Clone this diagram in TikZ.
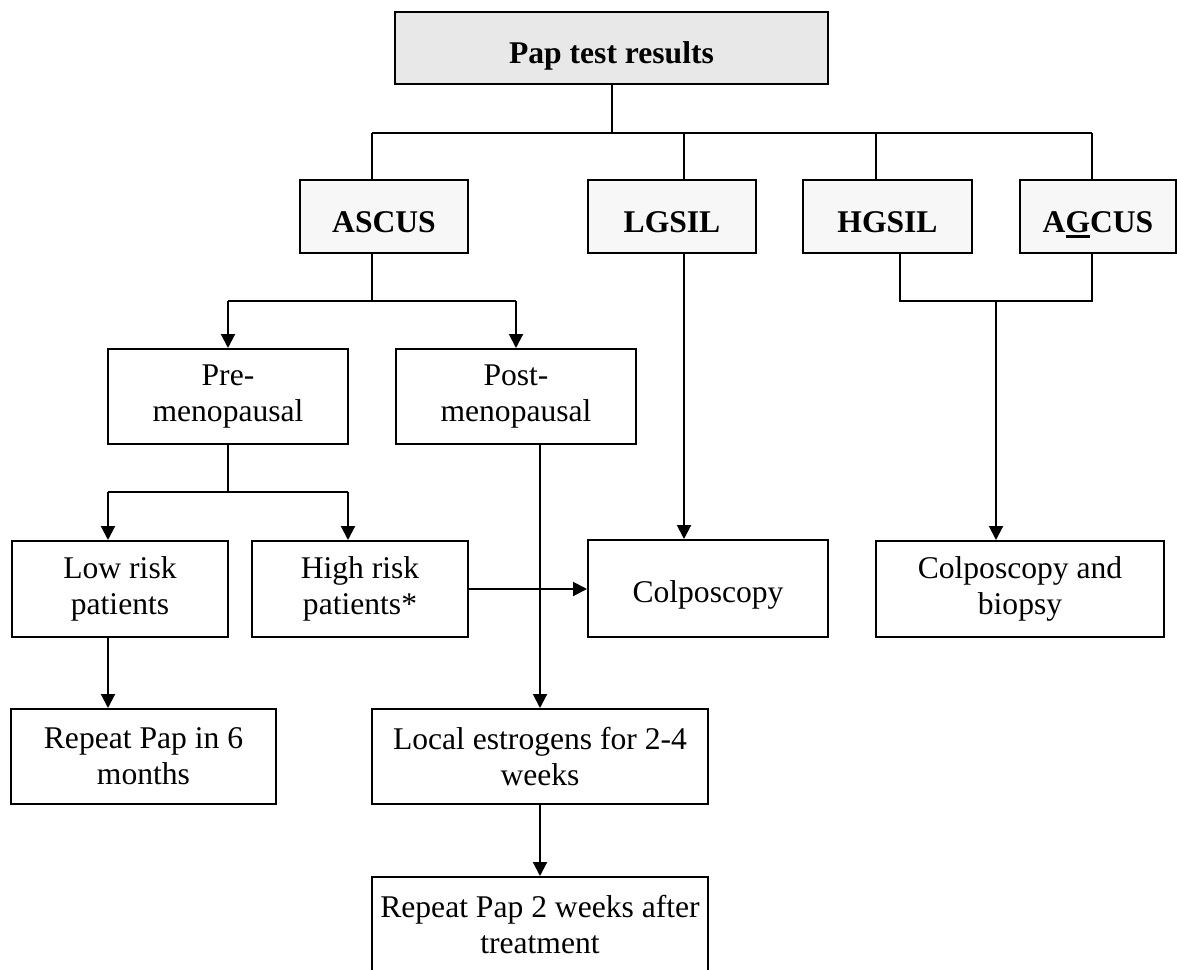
\documentclass[tikz,border=0pt]{standalone}
\usepackage{fontspec}
\setmainfont{Liberation Serif}
\usetikzlibrary{arrows.meta}
\newcommand{\thickul}[1]{\setbox0\hbox{#1}\smash{\rlap{\rule[-3pt]{\wd0}{1.5pt}}}#1}
\tikzset{
box/.style={draw,align=center,inner sep=0pt,font=\fontsize{15.8}{18}\selectfont},
headbox/.style={box,fill=black!3,text height=15.5pt,text depth=0pt,font=\fontsize{15.8}{18}\selectfont\bfseries},
arr/.style={-{Triangle[length=7pt,width=7pt]}}
}

\begin{document}
\begin{tikzpicture}[x=0.5pt,y=-0.5pt,line width=1pt]
\useasboundingbox (0,0) rectangle (1177,969);
\node (pap) at (611.5,48) [headbox,fill=black!9,minimum width=216.5pt,minimum height=36pt] {Pap test results};
\node (ascus) at (384,216.5) [headbox,minimum width=84pt,minimum height=36.5pt] {ASCUS};
\node (lgsil) at (672,216.5) [headbox,minimum width=84pt,minimum height=36.5pt] {LGSIL};
\node (hgsil) at (887.5,216.5) [headbox,minimum width=84.5pt,minimum height=36.5pt] {HGSIL};
\node (agcus) at (1098,216.5) [headbox,minimum width=78pt,minimum height=36.5pt] {A\thickul{G}CUS};
\node (pre) at (228,396.5) [box,minimum width=120pt,minimum height=47.5pt] {Pre-\\menopausal};
\node (post) at (516,396.5) [box,minimum width=120pt,minimum height=47.5pt] {Post-\\menopausal};
\node (low) at (120,589) [box,minimum width=108pt,minimum height=48pt] {Low risk\\patients};
\node (high) at (360,589) [box,minimum width=108pt,minimum height=48pt] {High risk\\patients*};
\node (colpo) at (708,588.5) [box,text height=13.5pt,text depth=0pt,minimum width=120pt,minimum height=48.5pt] {Colposcopy};
\node (colbio) at (1020,589) [box,minimum width=144pt,minimum height=48pt] {Colposcopy and\\biopsy};
\node (rep6) at (143.5,756.5) [box,minimum width=132.5pt,minimum height=47.5pt] {Repeat Pap in 6\\months};
\node (estro) at (540,756.5) [box,minimum width=168pt,minimum height=47.5pt] {Local estrogens for 2-4\\weeks};
\node (rep2) at (540,925) [box,minimum width=168pt,minimum height=48pt] {Repeat Pap 2 weeks after\\treatment};

\coordinate (a1) at (372,133);
\coordinate (a2) at (684,133);
\coordinate (a3) at (876,133);
\coordinate (a4) at (1092,133);
\coordinate (b0) at (372,301);
\coordinate (b1) at (228,301);
\coordinate (b2) at (516,301);
\coordinate (c0) at (228,492);
\coordinate (c1) at (108,492);
\coordinate (c2) at (348,492);
\coordinate (d0) at (996,301);
\coordinate (d1) at (900,301);
\coordinate (d2) at (1092,301);

\draw (pap.south) -- (pap.south |- a1);
\draw (a1) -- (a4);
\draw (a1) -- (a1 |- ascus.north);
\draw (a2) -- (a2 |- lgsil.north);
\draw (a3) -- (a3 |- hgsil.north);
\draw (a4) -- (a4 |- agcus.north);

\draw (b0 |- ascus.south) -- (b0);
\draw (b1) -- (b2);
\draw[arr] (b1) -- (pre.north);
\draw[arr] (b2) -- (post.north);

\draw (pre.south) -- (c0);
\draw (c1) -- (c2);
\draw[arr] (c1) -- (c1 |- low.north);
\draw[arr] (c2) -- (c2 |- high.north);
\draw[arr] (c1 |- low.south) -- (c1 |- rep6.north);

\draw[arr] (a2 |- lgsil.south) -- (a2 |- colpo.north);
\draw[arr] (high.east) -- (high.east -| colpo.west);

\draw (d1 |- hgsil.south) -- (d1) -- (d2) -- (d2 |- agcus.south);
\draw[arr] (d0) -- (d0 |- colbio.north);

\draw[arr] (post.south -| estro.north) -- (estro.north);
\draw[arr] (estro.south) -- (rep2.north);
\end{tikzpicture}
\end{document}
